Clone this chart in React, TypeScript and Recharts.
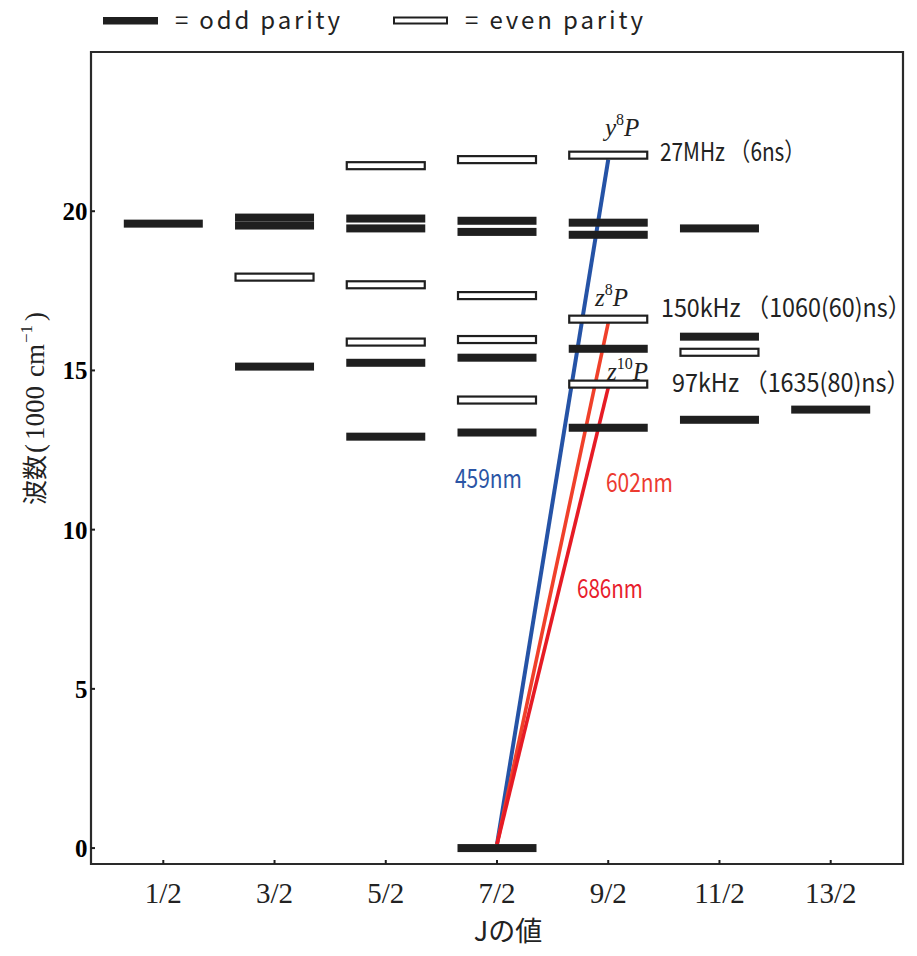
import { ComposedChart, Scatter, Line, XAxis, YAxis, ReferenceArea, ReferenceDot, Legend } from "recharts";

// J values, one column each (x = column index)
const jLabels = ["1/2", "3/2", "5/2", "7/2", "9/2", "11/2", "13/2"];

// energy levels in 1000 cm^-1
const oddLevels = [
  { x: 0, y: 19.61 },
  { x: 1, y: 19.8 }, { x: 1, y: 19.55 }, { x: 1, y: 15.12 },
  { x: 2, y: 19.77 }, { x: 2, y: 19.46 }, { x: 2, y: 15.24 }, { x: 2, y: 12.92 },
  { x: 3, y: 19.7 }, { x: 3, y: 19.35 }, { x: 3, y: 15.4 }, { x: 3, y: 13.05 }, { x: 3, y: 0 },
  { x: 4, y: 19.64 }, { x: 4, y: 19.26 }, { x: 4, y: 15.68 }, { x: 4, y: 13.2 },
  { x: 5, y: 19.46 }, { x: 5, y: 16.06 }, { x: 5, y: 13.45 },
  { x: 6, y: 13.77 },
];

const evenLevels = [
  { x: 1, y: 17.93 },
  { x: 2, y: 21.43 }, { x: 2, y: 17.69 }, { x: 2, y: 15.89 },
  { x: 3, y: 21.62 }, { x: 3, y: 17.35 }, { x: 3, y: 15.97 }, { x: 3, y: 14.07 },
  { x: 4, y: 21.76 }, { x: 4, y: 16.61 }, { x: 4, y: 14.57 },
  { x: 5, y: 15.57 },
];

// laser transitions from the 7/2 ground state to the 9/2 levels
const waveNames = ["459nm", "602nm", "686nm"];
const waveUpper = [21.62, 16.49, 14.46];
const waveLower = 0.12;

const termLetters = ["y", "z", "z"];
const termMult = ["8", "8", "10"];
const rateTexts = ["27MHz （6ns）", "150kHz （1060(60)ns）", "97kHz （1635(80)ns）"];

const waveColors = ["#2553a6", "#f0402a", "#e61b25"];
const waveTextColors = ["#2b55a5", "#ec3a30", "#e8202c"];
const ink = "#1f1f1f";
const gothic = "'Noto Sans CJK JP', 'Noto Sans', sans-serif";
const serif = "'Liberation Serif', 'DejaVu Serif', serif";

// label anchors (data units: column index, 1000 cm^-1), left/baseline
const waveAnchors = [
  { x: 2.622, y: 11.32, len: 67 },
  { x: 3.98, y: 11.17, len: 67 },
  { x: 3.719, y: 7.84, len: 66 },
];
const termAnchors = [
  { x: 3.971, y: 22.35 },
  { x: 3.881, y: 17.01 },
  { x: 3.989, y: 14.71 },
];
const rateAnchors = [
  { x: 4.466, y: 21.59, len: 145 },
  { x: 4.474, y: 16.68, len: 250 },
  { x: 4.573, y: 14.32, len: 238 },
];

const OddBar = (p: any) => (
  <rect x={p.cx - 39.5} y={p.cy - 4} width={79} height={8} fill={ink} />
);

const EvenBar = (p: any) => (
  <rect x={p.cx - 39} y={p.cy - 3.5} width={78} height={7} fill="#fff" stroke={ink} strokeWidth={2.2} />
);

const YTick = ({ x, y, payload }: any) => (
  <g>
    <line x1={x} x2={x + 4} y1={y} y2={y} stroke={ink} strokeWidth={2} />
    <text x={x - 3.5} y={y + 9} textAnchor="end" fontFamily={serif} fontWeight="bold" fontSize={25} fill="#000">
      {payload.value}
    </text>
  </g>
);

const XTick = ({ x, y, payload }: any) => (
  <g>
    <line x1={x} x2={x} y1={y} y2={y - 4} stroke={ink} strokeWidth={2} />
    <text x={x} y={y + 39} textAnchor="middle" fontFamily={serif} fontSize={29} fill="#222">
      {jLabels[payload.value]}
    </text>
  </g>
);

const YTitle = ({ viewBox }: any) => {
  const x = viewBox.x + 36;
  const y = viewBox.y + viewBox.height / 2 + 47;
  const y2 = y - 52;
  return (
    <g>
      <text x={x} y={y} transform={`rotate(-90 ${x} ${y})`} fontFamily={gothic} fontSize={25} fill="#222">
        波数
      </text>
      <text x={x} y={y2} transform={`rotate(-90 ${x} ${y2})`} fontFamily={serif} fontSize={27} fill="#222">
        <tspan>(</tspan>
        <tspan dx={4}>1000</tspan>
        <tspan dx={9}>cm</tspan>
        <tspan dx={1} fontSize={17} dy={-12}>−1</tspan>
        <tspan dx={4} dy={12}>)</tspan>
      </text>
    </g>
  );
};

const XTitle = ({ viewBox }: any) => (
  <text x={viewBox.x + viewBox.width / 2 + 11} y={viewBox.y + 77} textAnchor="middle" fontFamily={gothic} fontSize={27} fill="#222">
    Jの値
  </text>
);

const LegendBox = () => (
  <svg width={909} height={44} style={{ overflow: "visible", display: "block" }}>
    <rect x={95} y={9} width={55} height={7.5} fill={ink} />
    <text x={167} y={21} fontFamily={gothic} fontSize={24} fill="#222" textLength={165} lengthAdjust="spacing">
      = odd parity
    </text>
    <rect x={386} y={9.5} width={53} height={6} fill="#fff" stroke={ink} strokeWidth={2} />
    <text x={457} y={21} fontFamily={gothic} fontSize={24} fill="#222" textLength={178} lengthAdjust="spacing">
      = even parity
    </text>
  </svg>
);

export default function App() {
  return (
    <ComposedChart width={909} height={940} margin={{ top: 44, right: 14, bottom: 0, left: 0 }}>
      <XAxis
        type="number"
        dataKey="x"
        domain={[-0.65, 6.65]}
        ticks={[0, 1, 2, 3, 4, 5, 6]}
        interval={0}
        allowDataOverflow
        axisLine={false}
        tickLine={false}
        tickSize={0}
        tickMargin={0}
        tick={<XTick />}
        height={84}
        label={{ content: <XTitle /> }}
      />
      <YAxis
        type="number"
        dataKey="y"
        domain={[-0.5, 25]}
        ticks={[0, 5, 10, 15, 20]}
        interval={0}
        allowDataOverflow
        axisLine={false}
        tickLine={false}
        tickSize={0}
        tickMargin={0}
        tick={<YTick />}
        width={83}
        label={{ content: <YTitle /> }}
      />
      <Legend
        layout="vertical"
        align="center"
        verticalAlign="middle"
        width={909}
        height={44}
        wrapperStyle={{ top: 0, left: 0, overflow: "visible" }}
        content={<LegendBox />}
      />
      <ReferenceArea x1={-0.65} x2={6.65} y1={-0.5} y2={25} fill="#fff" fillOpacity={0} stroke="#2a2a2a" strokeWidth={2.2} />
      <Scatter data={oddLevels} shape={OddBar} isAnimationActive={false} />
      <Scatter data={evenLevels} shape={EvenBar} isAnimationActive={false} />
      {waveNames.map((name, i) => (
        <Line
          key={name}
          data={[{ x: 3, y: waveLower }, { x: 4, y: waveUpper[i] }]}
          dataKey="y"
          type="linear"
          stroke={waveColors[i]}
          strokeWidth={i === 0 ? 4 : 3.6}
          dot={false}
          activeDot={false}
          isAnimationActive={false}
        />
      ))}
      {waveNames.map((name, i) => (
        <ReferenceDot
          key={`w${name}`}
          x={waveAnchors[i].x}
          y={waveAnchors[i].y}
          r={0}
          shape={(p: any) => (
            <text x={p.cx} y={p.cy} fontFamily={gothic} fontSize={26} fill={waveTextColors[i]} textLength={waveAnchors[i].len} lengthAdjust="spacingAndGlyphs">
              {name}
            </text>
          )}
        />
      ))}
      {termLetters.map((letter, i) => (
        <ReferenceDot
          key={`t${i}`}
          x={termAnchors[i].x}
          y={termAnchors[i].y}
          r={0}
          shape={(p: any) => (
            <text x={p.cx} y={p.cy} fontFamily={serif} fontSize={25} fill="#222">
              <tspan fontStyle="italic">{letter}</tspan>
              <tspan fontSize={16} dy={-11}>{termMult[i]}</tspan>
              <tspan fontStyle="italic" dy={11}>P</tspan>
            </text>
          )}
        />
      ))}
      {rateTexts.map((txt, i) => (
        <ReferenceDot
          key={`r${i}`}
          x={rateAnchors[i].x}
          y={rateAnchors[i].y}
          r={0}
          shape={(p: any) => (
            <text x={p.cx} y={p.cy} fontFamily={gothic} fontSize={25} fill="#222" textLength={rateAnchors[i].len} lengthAdjust="spacingAndGlyphs">
              {txt}
            </text>
          )}
        />
      ))}
    </ComposedChart>
  );
}
